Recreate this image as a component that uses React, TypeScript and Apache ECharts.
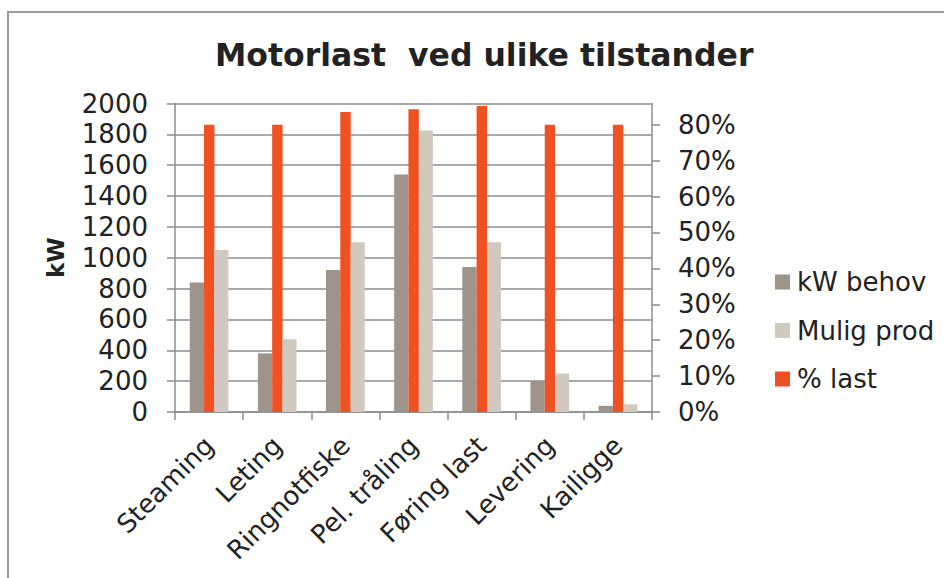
import React, { useEffect, useRef } from "react";
import * as echarts from "echarts";

const categories = ["Steaming", "Leting", "Ringnotfiske", "Pel. tråling", "Føring last", "Levering", "Kailigge"];
const kwBehov = [840, 380, 920, 1540, 940, 200, 40];
const muligProd = [1050, 472, 1100, 1825, 1100, 250, 50];
const prosentLast = [0.8, 0.8, 0.835, 0.843, 0.852, 0.8, 0.8];
const leftTicks = { min: 0, max: 2000, interval: 200 };
const rightTickValues = [0, 0.1, 0.2, 0.3, 0.4, 0.5, 0.6, 0.7, 0.8];

const FONT = "DejaVu Sans";
const GRID_COLOR = "#8c8c8c";
const TEXT_COLOR = "#222222";

export default function App() {
  const ref = useRef<HTMLDivElement>(null);
  useEffect(() => {
    if (!ref.current) return;
    const chart = echarts.init(ref.current, null, { renderer: "svg" });
    chart.setOption({
      animation: false,
      backgroundColor: "#ffffff",
      textStyle: { fontFamily: FONT },
      title: {
        text: "Motorlast  ved ulike tilstander",
        left: 210,
        top: 34,
        textStyle: { fontFamily: FONT, fontSize: 31.5, fontWeight: "bold", color: TEXT_COLOR },
      },
      graphic: [
        {
          type: "rect",
          shape: { x: 8, y: 12, width: 960, height: 600 },
          style: { fill: "none", stroke: "#9a9a9a", lineWidth: 2 },
          silent: true,
        },
      ],
      legend: {
        orient: "vertical",
        left: 770,
        top: 263,
        itemWidth: 15,
        itemHeight: 15,
        itemGap: 20.5,
        icon: "rect",
        data: ["kW behov", "Mulig prod", "% last"],
        textStyle: { fontFamily: FONT, fontSize: 26, color: TEXT_COLOR, lineHeight: 28, padding: [0, 0, 0, 2] },
      },
      grid: { left: 175, top: 103.5, right: 292, bottom: 166, containLabel: false },
      xAxis: {
        type: "category",
        data: categories,
        axisLine: { show: true, lineStyle: { color: GRID_COLOR, width: 1.5 } },
        axisTick: { show: true, length: 8, lineStyle: { color: GRID_COLOR, width: 1.5 } },
        axisLabel: {
          rotate: 45,
          interval: 0,
          margin: 29,
          fontFamily: FONT,
          fontSize: 26,
          color: TEXT_COLOR,
        },
      },
      yAxis: [
        {
          type: "value",
          min: leftTicks.min,
          max: leftTicks.max,
          interval: leftTicks.interval,
          name: "kW",
          nameLocation: "middle",
          nameRotate: 90,
          nameGap: 108,
          nameTextStyle: { fontFamily: FONT, fontSize: 23, fontWeight: "bold", color: TEXT_COLOR },
          axisLine: { show: true, lineStyle: { color: GRID_COLOR, width: 1.5 } },
          axisTick: { show: true, length: 8, lineStyle: { color: GRID_COLOR, width: 1.5 } },
          axisLabel: {
            margin: 27,
            fontFamily: FONT,
            fontSize: 26,
            color: TEXT_COLOR,
            formatter: (v: number) => String(v),
          },
          splitLine: { show: true, lineStyle: { color: GRID_COLOR, width: 1.5 } },
        },
        {
          type: "value",
          position: "right",
          min: 0,
          max: 0.859,
          interval: 0.1,
          axisLine: { show: true, lineStyle: { color: GRID_COLOR, width: 1.5 } },
          axisTick: { show: true, length: 8, customValues: rightTickValues, lineStyle: { color: GRID_COLOR, width: 1.5 } },
          axisLabel: {
            margin: 26,
            customValues: rightTickValues,
            fontFamily: FONT,
            fontSize: 26,
            color: TEXT_COLOR,
            formatter: (v: number) => Math.round(v * 100) + "%",
          },
          splitLine: { show: false },
        },
      ],
      series: [
        {
          name: "kW behov",
          type: "bar",
          data: kwBehov,
          yAxisIndex: 0,
          barWidth: 14.3,
          barGap: "0%",
          itemStyle: { color: "#9e948a" },
        },
        {
          name: "% last",
          type: "bar",
          data: prosentLast,
          yAxisIndex: 1,
          barWidth: 10.4,
          barGap: "0%",
          itemStyle: { color: "#f05122" },
        },
        {
          name: "Mulig prod",
          type: "bar",
          data: muligProd,
          yAxisIndex: 0,
          barWidth: 14,
          barGap: "0%",
          itemStyle: { color: "#d1c9bd" },
        },
      ],
    });
    return () => chart.dispose();
  }, []);
  return <div ref={ref} style={{ position: "fixed", left: 0, top: 0, width: 944, height: 578 }} />;
}
